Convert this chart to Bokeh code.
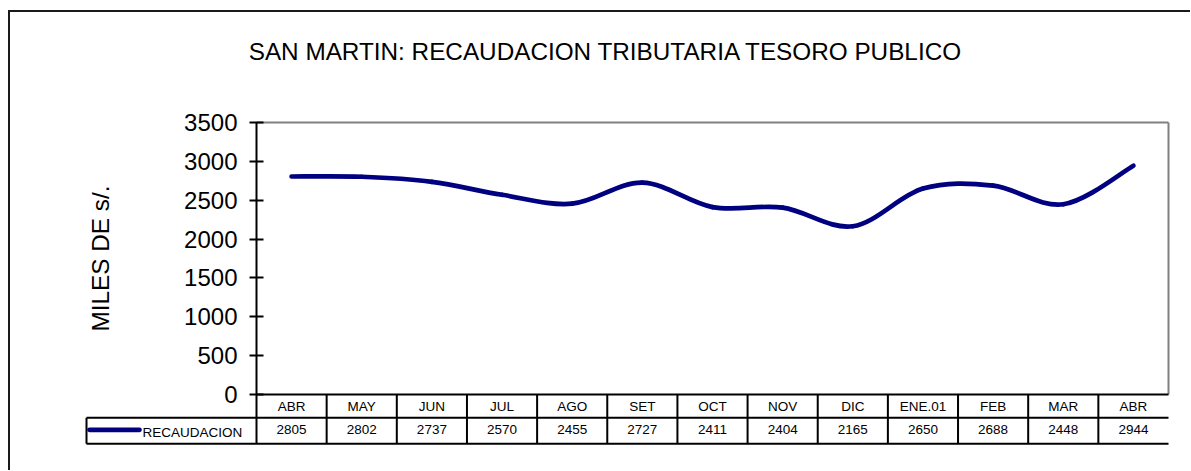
import numpy as np
from bokeh.plotting import figure
from bokeh.models import Range1d, FixedTicker
from bokeh.layouts import column
from bokeh.embed import file_html
from bokeh.resources import INLINE
from bokeh.core.properties import value

# ---------------- data ----------------
months = ["ABR", "MAY", "JUN", "JUL", "AGO", "SET", "OCT", "NOV", "DIC", "ENE.01", "FEB", "MAR", "ABR"]
recaudacion = [2805, 2802, 2737, 2570, 2455, 2727, 2411, 2404, 2165, 2650, 2688, 2448, 2944]
y_ticks = [0, 500, 1000, 1500, 2000, 2500, 3000, 3500]
y_max = 3500
title_text = "SAN MARTIN: RECAUDACION TRIBUTARIA TESORO PUBLICO"
series_name = "RECAUDACION"
y_label = "MILES DE s/."

FONT = "Liberation Sans"
NAVY = "#000080"

n = len(months)
xs = np.arange(n) + 0.5
ys = np.array(recaudacion, dtype=float)

# Excel-style smoothed line: cubic bezier segments through the data points
xp = np.concatenate([[xs[0]], xs, [xs[-1]]])
yp = np.concatenate([[ys[0]], ys, [ys[-1]]])
t = 1.0 / 6.0
bx0, by0 = xs[:-1], ys[:-1]
bx1, by1 = xs[1:], ys[1:]
bcx0 = bx0 + (xp[2:n + 1] - xp[0:n - 1]) * t
bcy0 = by0 + (yp[2:n + 1] - yp[0:n - 1]) * t
bcx1 = bx1 - (xp[3:n + 2] - xp[1:n]) * t
bcy1 = by1 - (yp[3:n + 2] - yp[1:n]) * t

# ---------------- layout constants (page pixels) ----------------
AX_X, RIGHT_X = 256.0, 1168.0        # plot area left / right
TOP_Y, ZERO_Y = 122.0, 394.0         # plot area top / bottom (value 0)
PX = (RIGHT_X - AX_X) / n            # px per category column
Y_PX = (ZERO_Y - TOP_Y) / y_max      # px per value unit
def xd(px):
    return (px - AX_X) / PX
def yd(py):
    return (ZERO_Y - py) / Y_PX

CANVAS_L, CANVAS_T = 10.0, 12.0
W, H = 1180, 458
FRAME_L, FRAME_R, FRAME_T, FRAME_B = 84.0, 1170.0, CANVAS_T, 446.0

ROW_MID = yd(417.3)
ROW_BOT = yd(443.3)
LEG_X = xd(86.0)

p = figure(width=W, height=H,
           x_range=Range1d(xd(FRAME_L), xd(FRAME_R)), y_range=Range1d(yd(FRAME_B), yd(FRAME_T)),
           output_backend="svg", toolbar_location=None, x_axis_location=None,
           min_border_left=int(FRAME_L - CANVAS_L), min_border_right=int(CANVAS_L + W - FRAME_R),
           min_border_top=0, min_border_bottom=int(CANVAS_T + H - FRAME_B))
p.outline_line_color = None
p.grid.visible = False
p.background_fill_color = "white"
p.border_fill_color = "white"

ax = p.yaxis[0]
ax.fixed_location = 0
ax.bounds = (ROW_BOT, y_max)
ax.ticker = FixedTicker(ticks=y_ticks)
ax.major_tick_in = 7
ax.major_tick_out = 7
ax.minor_tick_line_color = None
ax.axis_line_width = 2
ax.axis_line_color = "black"
ax.major_tick_line_width = 2
ax.major_tick_line_color = "black"
ax.major_label_text_font = FONT
ax.major_label_text_font_size = "24px"
ax.major_label_text_color = "black"
ax.major_label_standoff = 12

# chart title
p.text(x=[xd(605.5)], y=[yd(51.4)], text=[title_text], text_align="center",
       text_baseline="middle", text_font=value(FONT), text_font_size="24.3px", text_color="black")

# y axis title
p.text(x=[xd(100)], y=[yd(258)], text=[y_label], angle=np.pi / 2, text_align="center",
       text_baseline="middle", text_font=value(FONT), text_font_size="24.3px", text_color="black")

# plot area border (gray top and right)
p.segment(x0=[0, n], y0=[y_max, 0], x1=[n, n], y1=[y_max, y_max], line_color="#808080", line_width=2)

# smoothed series line
p.bezier(x0=bx0, y0=by0, x1=bx1, y1=by1, cx0=bcx0, cy0=bcy0, cx1=bcx1, cy1=bcy1,
         line_color=NAVY, line_width=4.7, line_cap="round")

# data table grid
hx0 = [0, LEG_X, LEG_X]
hx1 = [n, n, n]
hy = [0, ROW_MID, ROW_BOT]
p.segment(x0=hx0, y0=hy, x1=hx1, y1=hy, line_color="black", line_width=2)
vx = [LEG_X] + list(range(1, n + 1))
vy0 = [ROW_BOT] * n
vy1 = [ROW_MID] + [0] * (n - 1)
p.segment(x0=vx, y0=vy0, x1=vx, y1=vy1, line_color="black", line_width=2)

p.text(x=xs, y=[yd(405.5)] * n, text=months, text_align="center", text_baseline="middle",
       text_font=value(FONT), text_font_size="13.5px", text_color="black")
p.text(x=xs, y=[yd(428.5)] * n, text=[str(v) for v in recaudacion], text_align="center",
       text_baseline="middle", text_font=value(FONT), text_font_size="13.5px", text_color="black")

# legend key in table
p.segment(x0=[xd(89)], y0=[yd(429.3)], x1=[xd(139)], y1=[yd(429.3)],
          line_color=NAVY, line_width=4.7, line_cap="round")
p.text(x=[xd(142)], y=[yd(431.5)], text=[series_name], text_align="left", text_baseline="middle",
       text_font=value(FONT), text_font_size="13.5px", text_color="black")

layout = column(p, margin=(10, 0, 0, 8),
                styles={"border-left": "2px solid #1a1a1a", "border-top": "2px solid #1a1a1a"})

with open("out.html", "w") as f:
    f.write(file_html(layout, INLINE))
